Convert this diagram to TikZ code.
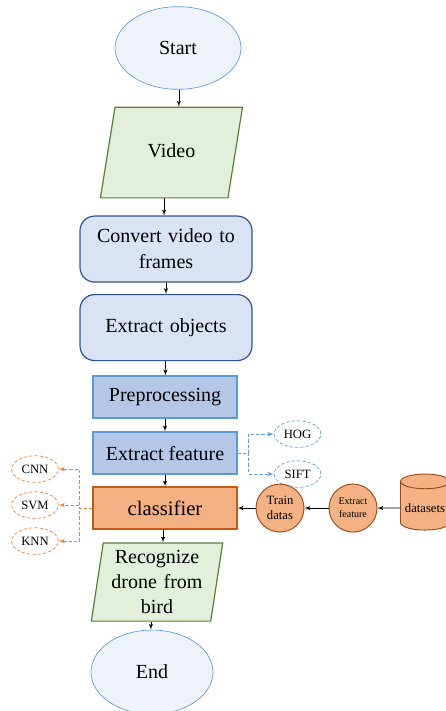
\documentclass[tikz,border=0pt]{standalone}
\usepackage{fontspec}
\setmainfont{Liberation Serif}
\usetikzlibrary{shapes,arrows,positioning}
\definecolor{termfill}{RGB}{238,243,250}
\definecolor{termline}{RGB}{91,155,213}
\definecolor{iofill}{RGB}{226,239,218}
\definecolor{ioline}{RGB}{84,130,53}
\definecolor{procfill}{RGB}{218,227,243}
\definecolor{procline}{RGB}{47,85,151}
\definecolor{featfill}{RGB}{180,199,231}
\definecolor{featline}{RGB}{91,155,213}
\definecolor{clsfill}{RGB}{244,177,131}
\definecolor{clsline}{RGB}{197,90,17}
\definecolor{dashorange}{RGB}{237,125,49}
\definecolor{circline}{RGB}{150,75,25}
\tikzstyle{terminal} = [ellipse, draw=termline, fill=termfill, line width=0.5pt, minimum width=94.5pt, minimum height=62pt, font=\fontsize{15}{18}\selectfont]
\tikzstyle{inout} = [trapezium, trapezium left angle=82, trapezium right angle=98, trapezium stretches=true, draw=ioline, fill=iofill, line width=0.9pt, inner xsep=1pt, text width=72pt, align=center, font=\fontsize{15}{18.75}\selectfont]
\tikzstyle{roundbox} = [rectangle, rounded corners=11pt, draw=procline, fill=procfill, line width=0.9pt, minimum width=129pt, minimum height=49.5pt, text width=112pt, align=center, font=\fontsize{15}{19.5}\selectfont]
\tikzstyle{featbox} = [rectangle, draw=featline, fill=featfill, line width=1pt, minimum width=108pt, minimum height=31.5pt, font=\fontsize{15}{18}\selectfont]
\tikzstyle{classbox} = [rectangle, draw=clsline, fill=clsfill, line width=1pt, minimum width=108pt, minimum height=31.5pt, font=\fontsize{15.5}{18}\selectfont]
\tikzstyle{method} = [ellipse, dashed, dash pattern=on 2.5pt off 1.5pt, fill=white, line width=0.5pt, minimum width=35pt, minimum height=20pt, inner sep=1pt, font=\fontsize{9.5}{11}\selectfont]
\tikzstyle{circ} = [circle, draw=circline, fill=clsfill, line width=0.7pt, minimum size=36pt, inner sep=0pt, align=center]
\tikzstyle{database} = [cylinder, shape border rotate=90, aspect=0.3, draw=circline, fill=clsfill, line width=0.7pt, minimum height=42pt, minimum width=32.5pt, font=\fontsize{9.5}{11}\selectfont]
\tikzstyle{line} = [draw, -latex', line width=0.5pt]
\tikzstyle{bluedash} = [draw=featline, dashed, dash pattern=on 2.5pt off 1.5pt, -latex', line width=0.6pt]
\tikzstyle{orangedash} = [draw=dashorange, dashed, dash pattern=on 2.5pt off 1.5pt, -latex', line width=0.6pt]

\begin{document}
\begin{tikzpicture}[node distance = 2cm, auto]
    \useasboundingbox (0,0) rectangle (334.5pt,-533.25pt);
    % Place nodes
    \node [terminal] at (133.5pt,-36pt) (start) {Start};
    \node [inout, below of=start, node distance=78.4pt, xshift=-4.9pt, minimum width=107pt, text height=11pt, text depth=3pt, inner ysep=27pt] (video) {Video};
    \node [roundbox, below of=video, node distance=72.4pt, xshift=-4.1pt] (convert) {Convert video to\\frames};
    \node [roundbox, below of=convert, node distance=58.9pt] (objects) {Extract objects};
    \node [featbox, below of=objects, node distance=52.1pt, xshift=-0.75pt] (prep) {Preprocessing};
    \node [featbox, below of=prep, node distance=42pt] (efeat) {Extract feature};
    \node [classbox, below of=efeat, node distance=41.25pt] (cls) {classifier};
    \node [inout, below of=cls, node distance=55.5pt, xshift=-6pt, minimum width=99pt, inner ysep=5.5pt] (recog) {Recognize\\drone from\\bird};
    \node [terminal, below of=recog, node distance=67.5pt, xshift=-3.75pt, minimum width=91.5pt, minimum height=63pt] (end) {End};
    % side nodes
    \node [method, draw=featline, right of=efeat, node distance=99.4pt, yshift=14.25pt] (hog) {HOG};
    \node [method, draw=featline, below of=hog, node distance=30pt] (sift) {SIFT};
    \node [method, draw=dashorange, left of=cls, node distance=97.5pt, yshift=29.25pt] (cnn) {CNN};
    \node [method, draw=dashorange, below of=cnn, node distance=27pt] (svm) {SVM};
    \node [method, draw=dashorange, below of=svm, node distance=27pt] (knn) {KNN};
    \node [circ, right of=cls, node distance=86.25pt, font=\fontsize{9.5}{11}\selectfont] (train) {Train\\datas};
    \node [circ, right of=train, node distance=54.75pt, font=\fontsize{7.5}{9.5}\selectfont] (exfeat) {Extract\\feature};
    \node [database, right of=exfeat, node distance=54pt] (data) {datasets};
    % Draw edges
    \path [line] (video.top side |- start.south) -- (video.top side);
    \path [line] (video.bottom side) -- (video.bottom side |- convert.north);
    \path [line] (convert) -- (objects);
    \path [line] (objects) -- (prep);
    \path [line] (prep) -- (efeat);
    \path [line] (efeat) -- (cls);
    \path [line] (recog.top side |- cls.south) -- (recog.top side);
    \path [line] (recog.bottom side) -- (recog.bottom side |- end.north);
    \path [line] (data) -- (exfeat);
    \path [line] (exfeat) -- (train);
    \path [line] (train) -- (cls);
    \path [bluedash] (efeat.east) -- ++(8.25pt,0) |- (hog.west);
    \path [bluedash] (efeat.east) -- ++(8.25pt,0) |- (sift.west);
    \path [orangedash] (cls.west) -- ++(-9.75pt,0) |- (cnn.east);
    \path [orangedash] (cls.west) -- ++(-9.75pt,0) |- (svm.east);
    \path [orangedash] (cls.west) -- ++(-9.75pt,0) |- (knn.east);

\end{tikzpicture}
\end{document}
